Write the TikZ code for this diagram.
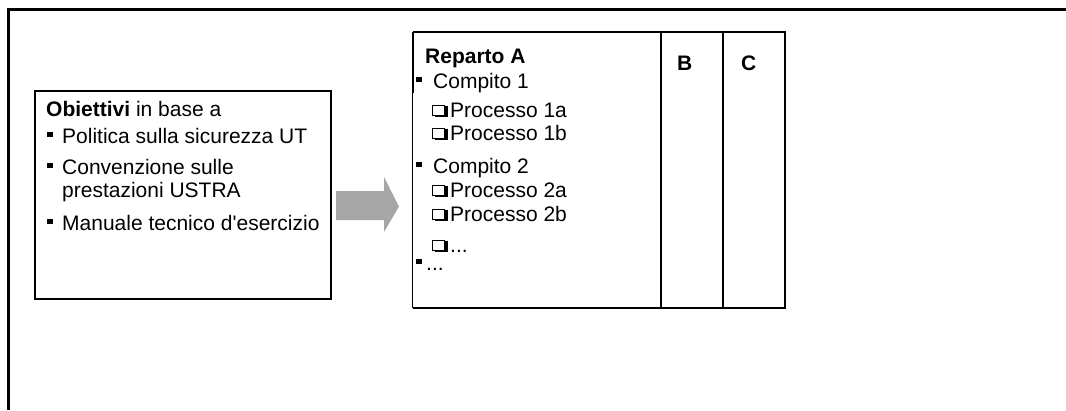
\documentclass[tikz,border=0pt]{standalone}
\usepackage{fontspec}
\setmainfont{Liberation Sans}
\usepackage{xcolor}
\usepackage{tikz}
\usetikzlibrary{positioning}
\definecolor{pfeilgrau}{RGB}{166,166,166}
\tikzstyle{frame} = [line width=2.5pt]
\tikzstyle{boxline} = [line width=2pt]
\tikzstyle{txt} = [anchor=base west, inner sep=0pt, font=\fontsize{21}{24}\selectfont]
\setlength{\fboxsep}{0pt}
\setlength{\fboxrule}{1.1pt}
\newcommand{\punkt}{\raisebox{6pt}{\rule{5.5pt}{5.5pt}}}
\newcommand{\kasten}{\makebox[18pt][l]{\rlap{\hspace{3pt}\rule{13pt}{11pt}}\raisebox{2pt}{\fcolorbox{black}{white}{\rule{0pt}{8.8pt}\hspace{10.8pt}}}}}

\begin{document}
\begin{tikzpicture}[x=1pt, y=-1pt]
    \useasboundingbox (0,0) rectangle (1066,410);
    % outer frame, cut off at right and bottom
    \coordinate (fa) at (8.3,410);
    \coordinate (fb) at (8.3,9.5);
    \coordinate (fc) at (1066,9.5);
    \draw [frame] (fa) -- (fb) -- (fc);

    % objectives box
    \node (obj) [draw, boxline, minimum width=296pt, minimum height=208pt, inner sep=0pt] at (183,195) {};
    \node (o1) [txt] at (46,116) {\textbf{Obiettivi} in base a};
    \node (o2) [txt] at (47,143) {\makebox[15pt][l]{\punkt}Politica sulla sicurezza UT};
    \node (o3) [txt] at (47,174) {\makebox[15pt][l]{\punkt}Convenzione sulle};
    \node (o4) [txt] at (62,197) {prestazioni USTRA};
    \node (o5) [txt] at (47,230) {\makebox[15pt][l]{\punkt}Manuale tecnico d\textquotesingle esercizio};

    % grey arrow
    \coordinate (pa) at (336,191);
    \fill [pfeilgrau] (pa) -- (384,191) -- (384,177) -- (399,206.5) -- (384,232) -- (384,220) -- (336,220) -- cycle;

    % departments table
    \node (colA) [minimum width=248pt, minimum height=276pt, inner sep=0pt] at (537,170) {};
    \node (colB) [minimum width=61pt, minimum height=276pt, inner sep=0pt, right=0pt of colA] {};
    \node (colC) [minimum width=62pt, minimum height=276pt, inner sep=0pt, right=0pt of colB] {};
    \draw [boxline] (colA.north west) -- (colC.north east) -- (colC.south east) -- (colA.south west);
    \draw [boxline] (colB.north west) -- (colB.south west);
    \draw [boxline] (colC.north west) -- (colC.south west);
    \draw [line width=0.8pt] (colA.north west) -- (colA.south west);
    \draw [boxline] (colA.north west) -- ++(0,61);

    \node (ra) [txt] at (425,63) {\textbf{Reparto A}};
    \node (rb) [txt] at (677,70.5) {\textbf{B}};
    \node (rc) [txt] at (741,70.5) {\textbf{C}};
    \node (c1) [txt] at (416,88) {\makebox[17pt][l]{\punkt}Compito 1};
    \node (p1a) [txt] at (432,117) {\kasten Processo 1a};
    \node (p1b) [txt] at (432,140) {\kasten Processo 1b};
    \node (c2) [txt] at (416,173) {\makebox[17pt][l]{\punkt}Compito 2};
    \node (p2a) [txt] at (432,197) {\kasten Processo 2a};
    \node (p2b) [txt] at (432,221) {\kasten Processo 2b};
    \node (p2x) [txt] at (432,252) {\kasten ...};
    \node (cx) [txt] at (416,270) {\makebox[10pt][l]{\punkt}...};
\end{tikzpicture}
\end{document}
